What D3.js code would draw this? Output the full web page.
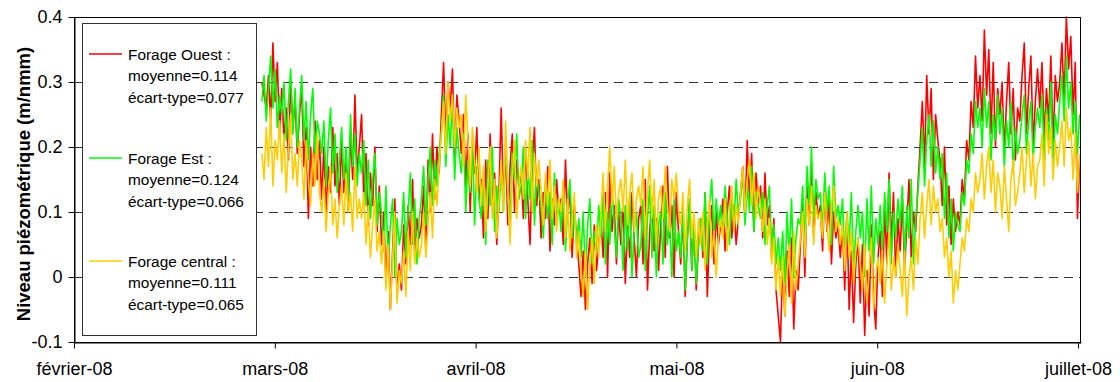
<!DOCTYPE html>
<html><head><meta charset="utf-8">
<script src="https://cdn.jsdelivr.net/npm/d3@7"></script>
<style>
html,body{margin:0;padding:0;background:#fff;}
svg{display:block;font-family:"Liberation Sans",Arial,sans-serif;}
</style></head>
<body><svg id="c" width="1120" height="382"></svg>
<script>
// x in days since 1 Feb 2008
const monthTicks = [0, 30.2, 60.4, 90.6, 120.8, 151];
const monthLabels = ["février-08", "mars-08", "avril-08", "mai-08", "juin-08", "juillet-08"];
const yTicks = [-0.1, 0, 0.1, 0.2, 0.3, 0.4];
const yTickLabels = ["-0.1", "0", "0.1", "0.2", "0.3", "0.4"];
const gridValues = [0, 0.1, 0.2, 0.3];
const startDay = 28.25;
const stepDay = 1/3;
const seriesNames = ["Forage Ouest", "Forage Est", "Forage central"];
const seriesMeans = ["0.114", "0.124", "0.111"];
const seriesStd = ["0.077", "0.066", "0.065"];
const seriesColors = ["#ff0000", "#00ff00", "#ffcc00"];

const ouest = [
.30,.28,.26,.31,.24,.36,.27,.33,.22,
.29,.21,.26,.18,.30,.23,.27,.19,.25,
.29,.17,.23,.09,.20,.14,.24,.15,.21,
.12,.20,.10,.17,.13,.23,.14,.19,.11,
.21,.13,.18,.10,.22,.15,.28,.16,.20,
.25,.12,.19,.08,.16,.11,.20,.07,.14,
.05,.10,-.01,.07,-.05,.04,.12,-.03,.02,
-.02,.08,.02,.11,.05,.15,.03,.09,.06,
.08,.14,.04,.18,.10,.22,.12,.20,.16,
.25,.33,.21,.30,.26,.32,.18,.28,.24,
.19,.25,.14,.22,.10,.20,.16,.23,.12,
.15,.06,.18,.09,.22,.11,.16,.05,.13,
.26,.12,.19,.08,.17,.22,.10,.18,.14,
.16,.09,.20,.12,.05,.17,.23,.11,.15,
.06,.13,.09,.17,.04,.12,.08,.15,.10,
.12,.05,.18,.09,.14,.03,.11,.06,.02,
-.03,.04,-.05,.02,.06,-.01,.08,.01,.05,
.09,.03,.13,.00,.16,.07,.11,.02,.10,
.05,.12,-.01,.08,.03,.13,.06,.00,.09,
.11,.02,.15,-.02,.07,.12,.04,.09,.01,
.08,.14,.03,.17,.06,.11,.00,.13,.07,
.02,.10,-.03,.06,.12,.01,.08,-.02,.05,
.09,.03,.13,-.03,.07,.11,.02,.10,.05,
.08,.12,.04,.10,.14,.06,.11,.05,.09,
.13,.17,.09,.21,.12,.19,.07,.16,.11,
.14,.06,.16,.08,.11,.03,.09,-.02,-.06,
-.10,.02,-.06,.04,-.03,.06,-.08,.01,-.02,
.05,.12,.00,.14,.08,.17,.06,.13,.09,
.11,.04,.14,.07,.12,.02,.10,.06,.08,
.03,.08,-.02,.10,-.05,.04,-.07,.02,.06,
-.04,.05,-.09,.01,-.06,.08,-.03,-.08,.03,
.07,-.03,.11,.02,.16,.05,.13,.00,.09,
.04,.12,.01,.08,.15,.03,.10,.07,.14,
.20,.27,.17,.31,.22,.29,.15,.25,.21,
.18,.11,.20,.08,.14,.05,.12,.07,.10,
.08,.15,.12,.21,.18,.27,.23,.34,.26,
.31,.24,.38,.28,.35,.22,.33,.20,.29,
.25,.30,.19,.27,.33,.22,.29,.18,.26,
.24,.31,.36,.22,.29,.34,.20,.27,.32,
.26,.33,.21,.29,.24,.34,.20,.31,.27,
.30,.36,.27,.40,.32,.37,.25,.33,.09,
.18];

const est = [
.27,.31,.24,.29,.34,.26,.32,.23,.28,
.25,.30,.21,.27,.32,.22,.29,.20,.26,
.31,.21,.27,.18,.25,.29,.19,.24,.22,
.19,.24,.14,.21,.26,.16,.22,.13,.18,
.23,.15,.20,.12,.25,.17,.22,.14,.19,
.16,.21,.11,.18,.09,.15,.19,.08,.13,
.10,.04,.14,.02,.08,.12,.00,.09,.05,
.07,.13,.03,.10,.16,.05,.12,.02,.09,
.12,.17,.08,.15,.20,.11,.18,.14,.19,
.22,.28,.17,.25,.20,.27,.15,.23,.19,
.16,.22,.10,.18,.13,.21,.08,.17,.12,
.09,.15,.05,.18,.11,.20,.07,.14,.10,
.17,.10,.21,.13,.08,.19,.15,.22,.12,
.14,.20,.09,.17,.12,.21,.08,.16,.13,
.11,.06,.15,.09,.13,.05,.16,.08,.12,
.07,.14,.04,.11,.15,.06,.10,.05,.09,
.03,.10,.00,.08,.12,.02,.07,.04,.11,
.06,.13,.02,.10,.05,.14,.08,.03,.12,
.09,.01,.11,.04,.13,.00,.07,.10,.03,
.05,.12,.01,.09,.14,.03,.11,.00,.08,
.10,.02,.13,.05,.09,.00,.12,.04,.07,
.03,.11,-.02,.06,.12,.01,.08,-.01,.05,
.09,.04,.13,.02,.11,.15,.06,.12,.08,
.11,.06,.14,.09,.05,.13,.08,.15,.10,
.12,.16,.08,.14,.10,.17,.07,.13,.11,
.09,.13,.05,.11,.14,.04,.08,.02,.06,
.01,.07,-.01,.10,.03,.12,.00,.06,.09,
.08,.14,.05,.17,.11,.20,.09,.15,.12,
.13,.07,.16,.10,.14,.05,.17,.09,.11,
.08,.12,.03,.10,.05,.13,.01,.07,.11,
.06,.10,.00,.12,.04,.14,.02,.09,.05,
.11,.04,.13,.07,.15,.02,.10,.06,.12,
.08,.14,.03,.11,.06,.15,.02,.09,.13,
.18,.23,.14,.21,.25,.17,.24,.16,.20,
.15,.19,.09,.16,.06,.12,.04,.10,.08,
.07,.13,.11,.18,.16,.22,.19,.27,.23,
.26,.20,.29,.23,.27,.18,.25,.21,.28,
.22,.26,.17,.24,.20,.27,.16,.23,.19,
.21,.25,.28,.19,.24,.27,.18,.23,.26,
.23,.28,.18,.26,.21,.30,.17,.25,.22,
.27,.31,.24,.34,.26,.30,.22,.27,.19,
.25];

const central = [
.19,.15,.23,.17,.26,.14,.21,.18,.24,
.16,.22,.13,.20,.25,.15,.19,.14,.21,
.18,.12,.21,.15,.11,.19,.14,.22,.13,
.10,.15,.07,.13,.17,.08,.12,.06,.11,
.14,.08,.16,.10,.13,.07,.17,.09,.12,
.09,.13,.05,.11,.03,.08,.12,.04,.07,
.02,.07,-.02,.05,-.05,.03,.10,-.04,.01,
-.01,.04,-.03,.07,.01,.10,.02,.06,.03,
.05,.10,.03,.08,.13,.06,.15,.11,.17,
.22,.27,.19,.30,.24,.28,.20,.26,.23,
.25,.17,.28,.21,.14,.23,.18,.13,.20,
.11,.17,.07,.14,.20,.09,.15,.06,.12,
.18,.10,.24,.13,.05,.16,.21,.09,.14,
.17,.12,.21,.15,.23,.10,.19,.14,.18,
.13,.08,.16,.11,.18,.09,.14,.07,.12,
.10,.15,.06,.12,.04,.09,.13,.03,.07,
.01,-.03,.04,-.05,.02,.06,-.01,.08,.03,
.10,.16,.07,.14,.20,.11,.17,.09,.13,
.15,.10,.18,.08,.13,.16,.07,.12,.14,
.11,.17,.06,.13,.18,.09,.15,.05,.12,
.14,.09,.17,.11,.07,.15,.12,.16,.10,
.08,.13,.04,.11,.15,.06,.10,.03,.09,
.05,.10,.01,.08,.12,.03,.07,.00,.06,
.09,.06,.12,.04,.10,.14,.07,.11,.08,
.13,.17,.10,.15,.18,.11,.16,.09,.14,
.11,.07,.12,.05,.09,.02,.06,-.02,.03,
-.03,.03,-.06,.01,.05,-.04,.07,-.02,.02,
.06,.10,.03,.12,.08,.14,.05,.11,.09,
.10,.06,.13,.08,.04,.11,.14,.07,.09,
.05,.08,.01,.10,.03,.07,-.01,.04,.06,
.02,-.02,.05,-.04,.01,.06,-.05,.00,.03,
-.01,.04,-.04,.02,.07,-.02,.03,.00,.05,
.01,-.03,.04,-.06,.00,.03,-.02,.06,.02,
.09,.13,.06,.11,.15,.08,.14,.10,.12,
.07,.09,.03,.06,.00,.04,-.04,.01,-.02,
.02,.06,.04,.09,.07,.12,.10,.16,.13,
.15,.19,.12,.17,.20,.13,.18,.10,.16,
.14,.09,.17,.12,.07,.15,.18,.11,.13,
.16,.20,.13,.18,.21,.14,.19,.12,.17,
.18,.22,.14,.25,.19,.23,.15,.21,.17,
.20,.24,.17,.26,.21,.23,.15,.22,.13,
.19];

const allSeries = [ouest, est, central];

const svg = d3.select("#c");
const L = 74, R = 1081, T = 17, B = 342;
const x = d3.scaleLinear().domain([0, 151.45]).range([L, R]);
const y = d3.scaleLinear().domain([-0.1, 0.4]).range([B, T]);

// grid
svg.append("g").selectAll("line").data(gridValues).join("line")
  .attr("x1", L).attr("x2", R)
  .attr("y1", d => Math.round(y(d)) + 0.5).attr("y2", d => Math.round(y(d)) + 0.5)
  .attr("stroke", "#333").attr("stroke-width", 1).attr("stroke-dasharray", "9,6");

// series
const line = d3.line().x((d, i) => x(startDay + i * stepDay)).y(d => y(d));
allSeries.forEach((s, k) => {
  svg.append("path").datum(s).attr("d", line)
    .attr("fill", "none").attr("stroke", seriesColors[k]).attr("stroke-width", 1.6)
    .attr("stroke-linejoin", "round");
});

// frame
svg.append("rect").attr("x", L + 0.5).attr("y", T + 0.5)
  .attr("width", R - L - 1).attr("height", B - T)
  .attr("fill", "none").attr("stroke", "#000").attr("stroke-width", 1);

// axes
const yAxis = d3.axisLeft(y).tickValues(yTicks)
  .tickFormat((d, i) => yTickLabels[i]).tickSize(6).tickSizeOuter(0).tickPadding(6);
const gy = svg.append("g").attr("transform", `translate(${L + 0.5},0)`).call(yAxis);
gy.select(".domain").attr("stroke", "#000");
gy.selectAll("text").attr("font-size", 18).attr("fill", "#000")
  .attr("font-family", "Liberation Sans, Arial, sans-serif");

const xAxis = d3.axisBottom(x).tickValues(monthTicks)
  .tickFormat((d, i) => monthLabels[i]).tickSize(6).tickSizeOuter(0).tickPadding(14);
const gx = svg.append("g").attr("transform", `translate(0,${B + 0.5})`).call(xAxis);
gx.select(".domain").attr("stroke", "#000");
gx.selectAll("text").attr("font-size", 18).attr("fill", "#000")
  .attr("font-family", "Liberation Sans, Arial, sans-serif");

// y title
svg.append("text").attr("transform", "translate(30,184) rotate(-90)")
  .attr("text-anchor", "middle").attr("font-size", 18.5).attr("font-weight", "bold")
  .text("Niveau piézométrique (m/nmm)");

// legend
const lg = svg.append("g");
lg.append("rect").attr("x", 82.5).attr("y", 23.5).attr("width", 174).attr("height", 312)
  .attr("fill", "#fff").attr("stroke", "#333").attr("stroke-width", 1);
const legY = [54, 158, 261];
legY.forEach((yy, k) => {
  lg.append("line").attr("x1", 89).attr("x2", 122).attr("y1", yy).attr("y2", yy)
    .attr("stroke", seriesColors[k]).attr("stroke-width", 1.5);
  const lines = [seriesNames[k] + " :", "moyenne=" + seriesMeans[k], "écart-type=" + seriesStd[k]];
  lines.forEach((t, j) => {
    lg.append("text").attr("x", 128).attr("y", yy + j * 21.5 + 5.5)
      .attr("font-size", 15.4).attr("fill", "#000").text(t);
  });
});
</script></body></html>
